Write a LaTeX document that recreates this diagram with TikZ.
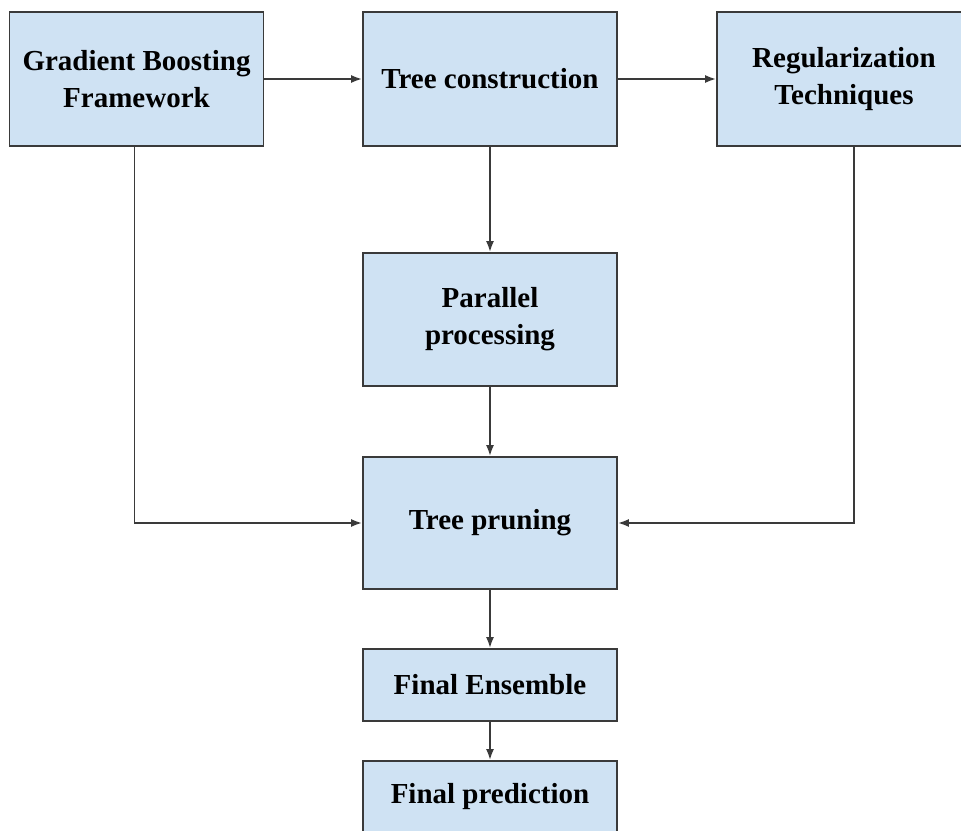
\documentclass[tikz,border=0pt]{standalone}
\usepackage{fontspec}
\setmainfont{Liberation Serif}
\usetikzlibrary{positioning,arrows.meta}
\definecolor{boxfill}{HTML}{CFE2F3}
\definecolor{boxline}{HTML}{3A3A3A}

\begin{document}
\begin{tikzpicture}[x=1pt,y=-1pt,
    block/.style={align=center,draw=boxline,fill=boxfill,line width=1.8pt,
      minimum width=254pt,inner sep=2pt,
      font=\fontsize{29}{37}\selectfont\bfseries},
    flow/.style={-{Latex[length=11pt,width=8pt]},line width=1.8pt,draw=boxline}]
  \useasboundingbox (0,0) rectangle (961,830);
  \clip (0,0) rectangle (961,830);

  \node at (136.5,79) [block,minimum height=134pt] (gbf) {
    Gradient Boosting\\
    Framework
  };

  \node at (490,79) [block,minimum height=134pt] (tree) {Tree construction};

  \node at (844,79) [block,minimum height=134pt] (reg) {
    Regularization\\
    Techniques
  };

  \node at (490,319.5) [block,minimum height=133pt] (par) {
    Parallel\\
    processing
  };

  \node at (490,523) [block,minimum height=132pt] (prune) {Tree pruning};

  \node at (490,685) [block,minimum height=72pt] (ens) {Final Ensemble};

  \node at (490,797) [block,minimum height=72pt] (pred) {Final prediction};

  \coordinate (regdrop) at ([xshift=10pt]reg.south);

  \draw[flow] (gbf.east) -- (tree.west);
  \draw[flow] (tree.east) -- (reg.west);
  \draw[flow] (tree.south) -- (par.north);
  \draw[flow] (par.south) -- (prune.north);
  \draw[flow] (prune.south) -- (ens.north);
  \draw[flow] (ens.south) -- (pred.north);
  \draw[flow] ([xshift=-2pt]gbf.south) -- ([xshift=-2pt]gbf.south |- prune.west) -- (prune.west);
  \draw[flow] (regdrop) -- (regdrop |- prune.east) -- (prune.east);
\end{tikzpicture}
\end{document}
